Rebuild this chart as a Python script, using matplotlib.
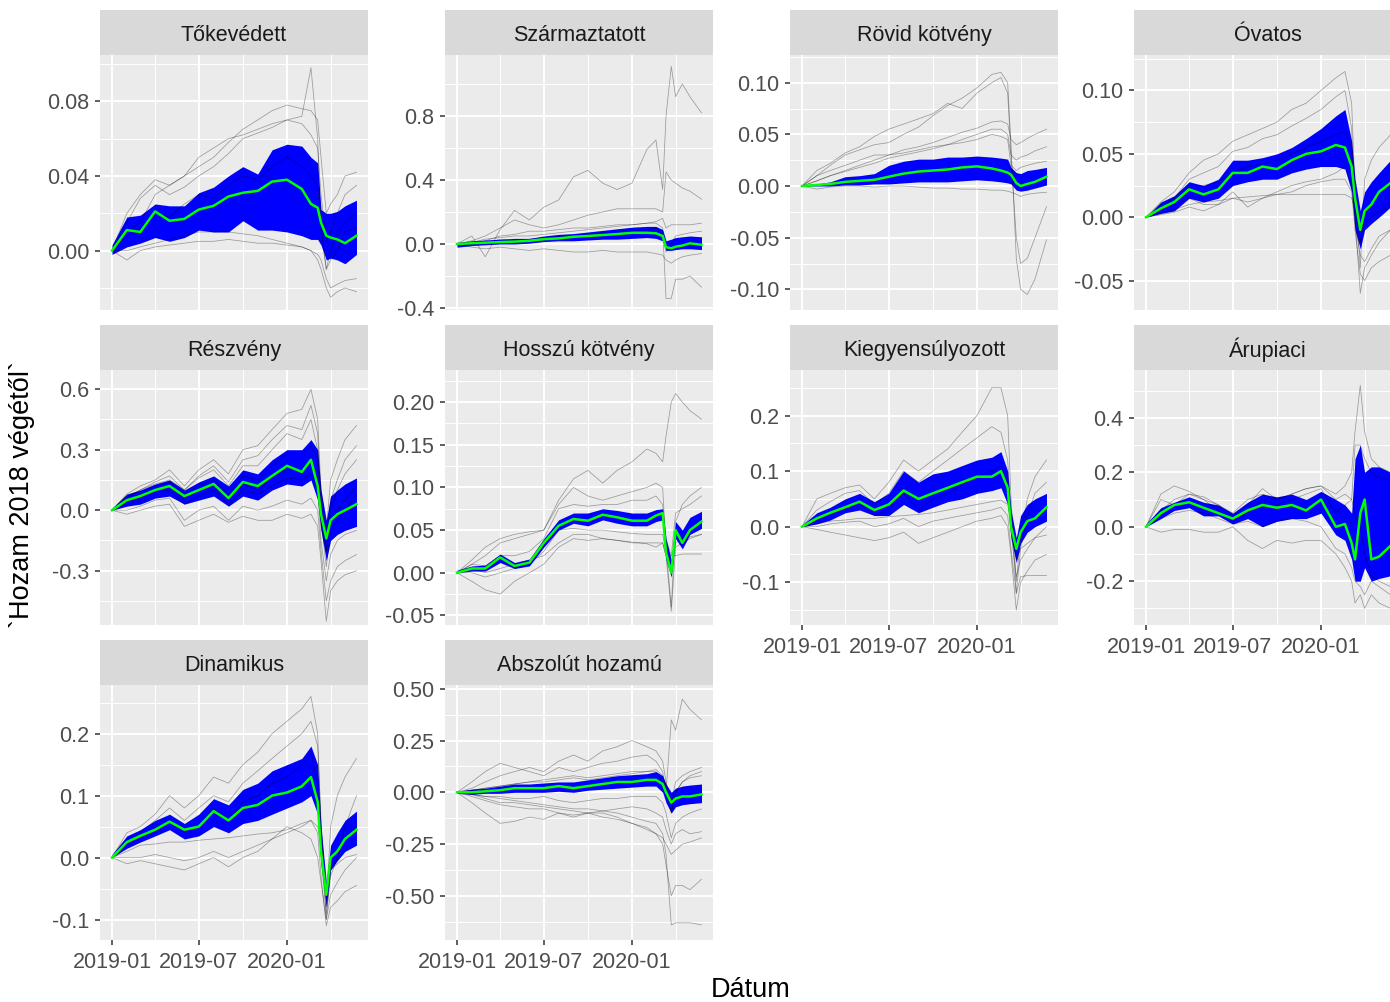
import numpy as np
import matplotlib
matplotlib.use("Agg")
import matplotlib.pyplot as plt
import matplotlib.dates as mdates
from matplotlib.ticker import MultipleLocator, FormatStrFormatter

plt.rcParams['font.family'] = ['Liberation Sans', 'DejaVu Sans']
plt.rcParams['axes.unicode_minus'] = False

# 01. data (knots only)
dates = np.array(["2019-01-01", "2019-02-01", "2019-03-01", "2019-04-01", "2019-05-01", "2019-06-01",
                  "2019-07-01", "2019-08-01", "2019-09-01", "2019-10-01", "2019-11-01", "2019-12-01",
                  "2020-01-01", "2020-02-01", "2020-02-20", "2020-03-05", "2020-03-12", "2020-03-23",
                  "2020-04-01", "2020-04-15", "2020-05-01", "2020-05-25"], dtype="datetime64[D]")

# Tőkevédett
tok_med = [0.000, 0.011, 0.010, 0.021, 0.016, 0.017, 0.022, 0.024, 0.029, 0.031, 0.032, 0.037, 0.038, 0.033, 0.025, 0.023, 0.015, 0.008, 0.007, 0.006, 0.004, 0.008]
tok_lo = [-0.002, 0.002, 0.004, 0.007, 0.005, 0.007, 0.011, 0.010, 0.010, 0.016, 0.011, 0.011, 0.010, 0.008, 0.006, 0.006, 0.003, -0.005, -0.004, -0.005, -0.007, -0.002]
tok_hi = [0.003, 0.018, 0.019, 0.025, 0.024, 0.024, 0.031, 0.034, 0.040, 0.045, 0.041, 0.054, 0.057, 0.056, 0.050, 0.047, 0.022, 0.020, 0.020, 0.021, 0.024, 0.027]
tok_funds = [
    [0, 0.020, 0.030, 0.038, 0.035, 0.040, 0.045, 0.050, 0.058, 0.065, 0.070, 0.075, 0.078, 0.076, 0.075, 0.070, 0.050, 0.020, 0.025, 0.030, 0.040, 0.042],
    [0, 0.010, 0.015, 0.030, 0.035, 0.040, 0.050, 0.055, 0.060, 0.062, 0.065, 0.068, 0.070, 0.072, 0.098, 0.060, 0.010, -0.010, -0.005, 0.000, 0.010, 0.012],
    [0, -0.005, 0.000, 0.002, 0.003, 0.004, 0.005, 0.005, 0.006, 0.005, 0.004, 0.004, 0.003, 0.002, 0.000, -0.002, -0.005, -0.015, -0.020, -0.018, -0.016, -0.015],
    [0, 0.015, 0.028, 0.035, 0.030, 0.034, 0.040, 0.045, 0.052, 0.060, 0.063, 0.066, 0.070, 0.068, 0.062, 0.055, 0.030, 0.005, 0.010, 0.020, 0.030, 0.035],
    [0, 0.000, 0.002, 0.004, 0.006, 0.008, 0.010, 0.010, 0.010, 0.009, 0.008, 0.006, 0.004, 0.002, 0.000, -0.005, -0.010, -0.020, -0.025, -0.022, -0.020, -0.022],
    [0, 0.008, 0.012, 0.020, 0.018, 0.025, 0.030, 0.028, 0.035, 0.040, 0.038, 0.045, 0.050, 0.045, 0.040, 0.035, 0.015, -0.010, 0.000, 0.010, 0.015, 0.020],
]

# Származtatott
szar_med = [0.000, 0.005, 0.008, 0.012, 0.015, 0.020, 0.030, 0.035, 0.045, 0.050, 0.056, 0.062, 0.070, 0.070, 0.067, 0.050, -0.020, -0.027, -0.017, -0.010, 0.004, -0.005]
szar_lo = [-0.020, -0.010, -0.005, 0.000, 0.000, 0.005, 0.015, 0.020, 0.020, 0.025, 0.030, 0.030, 0.035, 0.040, 0.035, 0.020, -0.040, -0.040, -0.035, -0.030, -0.030, -0.035]
szar_hi = [0.010, 0.020, 0.025, 0.030, 0.035, 0.035, 0.050, 0.060, 0.065, 0.075, 0.085, 0.095, 0.105, 0.110, 0.110, 0.090, 0.020, 0.030, 0.040, 0.045, 0.050, 0.045]
szar_funds = [
    [0, 0.05, -0.08, 0.09, 0.21, 0.15, 0.23, 0.275, 0.42, 0.46, 0.38, 0.34, 0.38, 0.59, 0.65, 0.34, 0.80, 1.11, 0.92, 1.00, 0.92, 0.82],
    [0, 0.02, 0.05, 0.10, 0.15, 0.12, 0.10, 0.12, 0.15, 0.18, 0.20, 0.22, 0.22, 0.22, 0.22, 0.20, 0.45, 0.40, 0.38, 0.35, 0.33, 0.28],
    [0, 0.00, 0.02, 0.05, 0.06, 0.08, 0.08, 0.09, 0.10, 0.10, 0.11, 0.12, 0.12, 0.13, 0.13, 0.10, -0.34, -0.34, -0.22, -0.22, -0.20, -0.27],
    [0, 0.01, 0.03, 0.04, 0.05, 0.05, 0.06, 0.07, 0.08, 0.09, 0.10, 0.11, 0.12, 0.13, 0.14, 0.16, 0.10, 0.12, 0.12, 0.12, 0.12, 0.13],
    [0, -0.02, -0.03, -0.02, -0.03, -0.04, -0.03, -0.04, -0.05, -0.05, -0.04, -0.05, -0.05, -0.05, -0.06, -0.07, -0.10, -0.12, -0.10, -0.08, -0.07, -0.06],
    [0, 0.01, 0.00, 0.03, 0.02, 0.03, 0.04, 0.05, 0.04, 0.06, 0.07, 0.06, 0.08, 0.09, 0.10, 0.05, -0.05, 0.00, 0.05, 0.06, 0.07, 0.08],
]

# Rövid kötvény
rov_med = [0.000, 0.001, 0.002, 0.004, 0.005, 0.006, 0.009, 0.012, 0.014, 0.015, 0.016, 0.018, 0.019, 0.017, 0.015, 0.013, 0.011, 0.003, 0.000, 0.002, 0.004, 0.009]
rov_lo = [0.000, 0.000, 0.000, 0.001, 0.001, 0.002, 0.002, 0.003, 0.004, 0.004, 0.004, 0.005, 0.006, 0.005, 0.004, 0.003, 0.002, -0.004, -0.005, -0.004, -0.002, 0.001]
rov_hi = [0.001, 0.002, 0.004, 0.009, 0.010, 0.012, 0.020, 0.024, 0.026, 0.026, 0.028, 0.028, 0.029, 0.028, 0.027, 0.026, 0.018, 0.013, 0.012, 0.015, 0.016, 0.018]
rov_funds = [
    [0, 0.010, 0.020, 0.030, 0.035, 0.040, 0.042, 0.050, 0.057, 0.068, 0.078, 0.085, 0.095, 0.108, 0.110, 0.100, 0.040, -0.070, -0.100, -0.105, -0.090, -0.052],
    [0, 0.015, 0.022, 0.032, 0.038, 0.048, 0.055, 0.060, 0.065, 0.070, 0.080, 0.075, 0.090, 0.100, 0.105, 0.090, 0.030, -0.050, -0.075, -0.070, -0.050, -0.020],
    [0, 0.005, 0.010, 0.015, 0.020, 0.025, 0.030, 0.035, 0.038, 0.042, 0.047, 0.052, 0.056, 0.062, 0.063, 0.060, 0.045, 0.040, 0.042, 0.046, 0.050, 0.055],
    [0, 0.005, 0.010, 0.014, 0.018, 0.022, 0.027, 0.030, 0.033, 0.036, 0.040, 0.045, 0.050, 0.055, 0.055, 0.050, 0.030, 0.025, 0.028, 0.030, 0.034, 0.038],
    [0, -0.003, -0.001, 0.000, 0.000, -0.001, 0.000, 0.000, -0.001, -0.002, -0.002, -0.003, -0.003, -0.004, -0.004, -0.005, -0.006, -0.008, -0.010, -0.008, -0.007, -0.006],
    [0, 0.010, 0.015, 0.020, 0.025, 0.030, 0.030, 0.032, 0.035, 0.038, 0.040, 0.042, 0.045, 0.050, 0.048, 0.045, 0.020, 0.015, 0.018, 0.020, 0.022, 0.024],
]

# Óvatos
ova_med = [0.000, 0.007, 0.012, 0.022, 0.018, 0.022, 0.035, 0.035, 0.040, 0.038, 0.045, 0.050, 0.052, 0.057, 0.055, 0.040, 0.015, -0.010, 0.005, 0.010, 0.020, 0.027]
ova_lo = [0.000, 0.003, 0.005, 0.015, 0.012, 0.015, 0.025, 0.028, 0.030, 0.030, 0.035, 0.038, 0.040, 0.040, 0.038, 0.020, -0.010, -0.025, -0.010, -0.005, 0.000, 0.008]
ova_hi = [0.000, 0.012, 0.017, 0.028, 0.025, 0.030, 0.045, 0.045, 0.047, 0.050, 0.055, 0.062, 0.070, 0.080, 0.085, 0.060, 0.030, 0.005, 0.020, 0.028, 0.035, 0.045]
ova_funds = [
    [0, 0.012, 0.020, 0.035, 0.045, 0.050, 0.060, 0.065, 0.070, 0.075, 0.085, 0.090, 0.100, 0.110, 0.115, 0.090, 0.020, -0.040, 0.030, 0.045, 0.055, 0.065],
    [0, 0.008, 0.015, 0.030, 0.035, 0.040, 0.052, 0.055, 0.062, 0.065, 0.072, 0.078, 0.085, 0.095, 0.100, 0.070, 0.000, -0.060, -0.040, -0.030, -0.020, -0.010],
    [0, 0.002, 0.004, 0.008, 0.005, 0.010, 0.015, 0.012, 0.015, 0.018, 0.020, 0.025, 0.028, 0.030, 0.030, 0.020, -0.010, -0.045, -0.050, -0.040, -0.035, -0.030],
    [0, 0.003, 0.006, 0.010, 0.012, 0.013, 0.015, 0.016, 0.017, 0.018, 0.018, 0.018, 0.018, 0.018, 0.018, 0.015, 0.005, -0.010, -0.005, 0.000, 0.005, 0.008],
    [0, 0.010, 0.015, 0.025, 0.025, 0.028, 0.035, 0.040, 0.042, 0.045, 0.050, 0.055, 0.060, 0.065, 0.068, 0.055, 0.020, -0.020, 0.000, 0.010, 0.020, 0.025],
    [0, 0.005, 0.010, 0.015, 0.010, 0.010, 0.020, 0.008, 0.015, 0.020, 0.025, 0.028, 0.030, 0.035, 0.040, 0.025, -0.005, -0.030, -0.035, -0.025, -0.015, -0.010],
]

# Részvény
resz_med = [0.00, 0.05, 0.07, 0.10, 0.12, 0.07, 0.10, 0.13, 0.06, 0.14, 0.12, 0.17, 0.22, 0.19, 0.25, 0.12, -0.02, -0.14, -0.05, -0.02, 0.00, 0.03]
resz_lo = [0.00, 0.02, 0.03, 0.06, 0.07, 0.03, 0.05, 0.07, 0.02, 0.07, 0.05, 0.10, 0.13, 0.12, 0.15, 0.05, -0.10, -0.25, -0.15, -0.12, -0.10, -0.08]
resz_hi = [0.01, 0.08, 0.10, 0.13, 0.15, 0.10, 0.14, 0.17, 0.12, 0.20, 0.18, 0.25, 0.30, 0.30, 0.35, 0.30, 0.10, -0.05, 0.07, 0.10, 0.13, 0.16]
resz_funds = [
    [0, 0.08, 0.12, 0.15, 0.20, 0.12, 0.20, 0.25, 0.18, 0.30, 0.32, 0.40, 0.48, 0.50, 0.60, 0.45, 0.10, -0.10, 0.15, 0.25, 0.35, 0.42],
    [0, 0.06, 0.10, 0.13, 0.15, 0.10, 0.16, 0.20, 0.12, 0.22, 0.22, 0.30, 0.38, 0.35, 0.45, 0.30, 0.00, -0.20, 0.00, 0.10, 0.18, 0.25],
    [0, 0.05, 0.08, 0.12, 0.14, 0.08, 0.12, 0.15, 0.08, 0.17, 0.15, 0.22, 0.28, 0.28, 0.32, 0.25, -0.05, -0.28, -0.10, -0.05, 0.00, 0.08],
    [0, 0.03, 0.05, 0.09, 0.10, 0.03, 0.07, 0.10, 0.03, 0.10, 0.08, 0.12, 0.16, 0.15, 0.18, 0.10, -0.15, -0.35, -0.22, -0.15, -0.12, -0.10],
    [0, 0.00, 0.02, 0.05, 0.06, -0.05, 0.00, 0.02, -0.05, 0.02, 0.00, 0.02, 0.05, 0.03, 0.06, 0.00, -0.20, -0.45, -0.35, -0.28, -0.25, -0.22],
    [0, -0.02, 0.00, 0.02, 0.03, -0.08, -0.05, -0.02, -0.06, -0.03, -0.05, -0.05, -0.02, -0.04, -0.02, -0.08, -0.25, -0.55, -0.40, -0.35, -0.32, -0.30],
    [0, 0.04, 0.06, 0.10, 0.12, 0.05, 0.10, 0.12, 0.05, 0.13, 0.10, 0.16, 0.20, 0.20, 0.24, 0.15, -0.08, -0.20, -0.05, 0.00, 0.05, 0.12],
    [0, 0.07, 0.10, 0.14, 0.17, 0.10, 0.17, 0.22, 0.14, 0.25, 0.27, 0.35, 0.42, 0.40, 0.52, 0.38, 0.05, -0.15, 0.05, 0.15, 0.25, 0.32],
]

# Hosszú kötvény
hosz_med = [0.000, 0.005, 0.005, 0.018, 0.008, 0.012, 0.035, 0.055, 0.063, 0.061, 0.068, 0.065, 0.061, 0.061, 0.067, 0.070, 0.024, 0.000, 0.050, 0.035, 0.050, 0.060]
hosz_lo = [0.000, 0.002, 0.002, 0.012, 0.005, 0.008, 0.030, 0.050, 0.058, 0.055, 0.062, 0.058, 0.055, 0.055, 0.060, 0.062, 0.015, -0.005, 0.040, 0.028, 0.045, 0.052]
hosz_hi = [0.003, 0.008, 0.009, 0.022, 0.012, 0.016, 0.040, 0.062, 0.070, 0.070, 0.075, 0.073, 0.070, 0.070, 0.074, 0.075, 0.040, 0.015, 0.060, 0.050, 0.065, 0.072]
hosz_funds = [
    [0, 0.010, 0.020, 0.035, 0.040, 0.045, 0.050, 0.085, 0.110, 0.120, 0.105, 0.120, 0.130, 0.145, 0.140, 0.130, 0.160, 0.200, 0.210, 0.200, 0.190, 0.180],
    [0, 0.015, 0.030, 0.040, 0.045, 0.048, 0.050, 0.080, 0.100, 0.090, 0.085, 0.090, 0.095, 0.100, 0.105, 0.100, 0.030, -0.040, 0.060, 0.080, 0.090, 0.100],
    [0, -0.010, -0.020, -0.025, -0.010, 0.000, 0.010, 0.030, 0.040, 0.038, 0.040, 0.038, 0.035, 0.035, 0.035, 0.035, 0.020, 0.020, 0.020, 0.022, 0.022, 0.022],
    [0, 0.005, 0.000, 0.005, 0.010, 0.015, 0.020, 0.035, 0.045, 0.045, 0.040, 0.038, 0.036, 0.034, 0.030, 0.035, 0.020, -0.045, 0.030, 0.035, 0.040, 0.045],
    [0, 0.010, 0.008, 0.020, 0.020, 0.025, 0.040, 0.075, 0.080, 0.078, 0.080, 0.080, 0.085, 0.085, 0.090, 0.080, 0.040, 0.020, 0.070, 0.075, 0.080, 0.090],
    [0, 0.000, -0.005, 0.000, 0.005, 0.010, 0.025, 0.050, 0.052, 0.050, 0.050, 0.048, 0.046, 0.045, 0.045, 0.045, 0.025, 0.010, 0.035, 0.040, 0.042, 0.045],
]

# Kiegyensúlyozott
kieg_med = [0.000, 0.015, 0.025, 0.035, 0.045, 0.030, 0.040, 0.065, 0.050, 0.060, 0.070, 0.080, 0.090, 0.090, 0.100, 0.070, 0.000, -0.040, -0.010, 0.010, 0.015, 0.035]
kieg_lo = [0.000, 0.005, 0.012, 0.025, 0.030, 0.020, 0.020, 0.040, 0.025, 0.035, 0.045, 0.050, 0.060, 0.065, 0.070, 0.040, -0.020, -0.065, -0.030, -0.010, 0.000, 0.010]
kieg_hi = [0.003, 0.025, 0.035, 0.050, 0.060, 0.045, 0.060, 0.100, 0.080, 0.095, 0.100, 0.110, 0.120, 0.125, 0.135, 0.100, 0.030, -0.020, 0.020, 0.040, 0.050, 0.060]
kieg_funds = [
    [0, 0.050, 0.060, 0.070, 0.075, 0.050, 0.080, 0.120, 0.100, 0.120, 0.140, 0.170, 0.200, 0.250, 0.250, 0.200, 0.050, -0.100, -0.020, 0.050, 0.090, 0.120],
    [0, 0.030, 0.045, 0.060, 0.065, 0.040, 0.060, 0.100, 0.080, 0.100, 0.120, 0.140, 0.160, 0.180, 0.170, 0.120, 0.020, -0.120, -0.040, 0.020, 0.060, 0.080],
    [0, -0.005, -0.010, -0.015, -0.020, -0.025, -0.020, -0.010, -0.030, -0.020, -0.010, 0.000, 0.010, 0.015, 0.020, 0.000, -0.050, -0.150, -0.100, -0.080, -0.060, -0.050],
    [0, 0.005, 0.010, 0.012, 0.015, 0.015, 0.018, 0.020, 0.022, 0.025, 0.030, 0.035, 0.040, 0.045, 0.048, 0.040, 0.010, -0.060, -0.040, -0.030, -0.020, -0.015],
    [0, 0.010, 0.020, 0.030, 0.040, 0.020, 0.030, 0.060, 0.030, 0.050, 0.060, 0.075, 0.090, 0.100, 0.110, 0.080, -0.010, -0.090, -0.060, -0.040, -0.020, 0.000],
    [0, 0.000, 0.005, 0.008, 0.010, 0.000, 0.005, 0.015, 0.000, 0.010, 0.015, 0.020, 0.025, 0.030, 0.035, 0.020, -0.040, -0.120, -0.090, -0.088, -0.088, -0.088],
]

# Árupiaci
aru_med = [0.00, 0.05, 0.08, 0.09, 0.07, 0.05, 0.03, 0.06, 0.08, 0.07, 0.08, 0.06, 0.10, 0.00, 0.01, -0.06, -0.12, 0.05, 0.10, -0.12, -0.11, -0.07]
aru_lo = [0.00, 0.03, 0.06, 0.07, 0.04, 0.04, 0.01, 0.03, 0.00, 0.02, 0.03, 0.03, 0.05, -0.03, -0.05, -0.12, -0.20, -0.20, -0.15, -0.20, -0.19, -0.18]
aru_hi = [0.01, 0.07, 0.09, 0.11, 0.09, 0.08, 0.05, 0.09, 0.12, 0.11, 0.12, 0.10, 0.13, 0.10, 0.08, 0.05, 0.25, 0.30, 0.20, 0.22, 0.22, 0.20]
aru_funds = [
    [0, 0.12, 0.15, 0.13, 0.10, 0.08, 0.05, 0.10, 0.12, 0.10, 0.12, 0.14, 0.15, 0.12, 0.15, 0.20, 0.35, 0.52, 0.35, 0.25, 0.22, 0.20],
    [0, 0.10, 0.08, 0.12, 0.10, 0.06, 0.02, 0.05, 0.10, 0.08, 0.10, 0.12, 0.14, 0.05, 0.08, 0.10, 0.30, 0.30, 0.25, 0.20, 0.18, 0.17],
    [0, -0.02, -0.01, -0.01, -0.02, -0.02, 0.00, -0.05, -0.08, -0.05, -0.06, -0.05, -0.05, -0.10, -0.15, -0.20, -0.28, -0.25, -0.30, -0.25, -0.28, -0.30],
    [0, 0.03, 0.05, 0.06, 0.05, 0.03, 0.01, 0.02, 0.00, 0.02, 0.03, 0.02, 0.00, -0.08, -0.10, -0.15, -0.20, -0.22, -0.25, -0.20, -0.22, -0.25],
    [0, 0.06, 0.10, 0.12, 0.11, 0.08, 0.04, 0.08, 0.14, 0.10, 0.12, 0.14, 0.15, 0.10, 0.12, 0.10, 0.05, 0.00, -0.10, -0.18, -0.20, -0.22],
]

# Dinamikus
din_med = [0.000, 0.025, 0.035, 0.045, 0.058, 0.045, 0.050, 0.075, 0.060, 0.080, 0.085, 0.100, 0.105, 0.115, 0.130, 0.090, 0.010, -0.060, 0.000, 0.010, 0.030, 0.045]
din_lo = [0.000, 0.015, 0.025, 0.035, 0.045, 0.030, 0.035, 0.050, 0.040, 0.055, 0.060, 0.070, 0.080, 0.090, 0.100, 0.070, -0.010, -0.080, -0.020, -0.005, 0.010, 0.020]
din_hi = [0.005, 0.035, 0.045, 0.060, 0.070, 0.055, 0.070, 0.095, 0.085, 0.110, 0.120, 0.140, 0.150, 0.160, 0.180, 0.150, 0.050, -0.040, 0.020, 0.040, 0.060, 0.075]
din_funds = [
    [0, 0.040, 0.050, 0.070, 0.100, 0.080, 0.100, 0.130, 0.120, 0.150, 0.170, 0.200, 0.220, 0.240, 0.260, 0.200, 0.050, -0.100, -0.020, 0.000, 0.050, 0.100],
    [0, 0.030, 0.040, 0.060, 0.080, 0.060, 0.080, 0.100, 0.090, 0.120, 0.140, 0.160, 0.180, 0.200, 0.220, 0.180, 0.060, -0.080, 0.050, 0.100, 0.130, 0.160],
    [0, -0.010, -0.005, -0.010, -0.015, -0.020, -0.010, 0.000, -0.015, 0.000, 0.010, 0.030, 0.050, 0.040, 0.030, 0.000, -0.040, -0.100, -0.060, -0.040, -0.020, 0.000],
    [0, 0.010, 0.020, 0.022, 0.025, 0.025, 0.028, 0.030, 0.032, 0.035, 0.038, 0.040, 0.045, 0.055, 0.060, 0.050, 0.020, -0.050, -0.020, -0.010, 0.000, 0.005],
    [0, 0.000, 0.000, 0.005, 0.000, -0.005, 0.000, 0.010, 0.000, 0.010, 0.020, 0.030, 0.040, 0.050, 0.060, 0.040, -0.030, -0.110, -0.080, -0.070, -0.055, -0.045],
    [0, 0.020, 0.030, 0.040, 0.060, 0.040, 0.050, 0.080, 0.060, 0.090, 0.100, 0.120, 0.130, 0.150, 0.170, 0.120, 0.000, -0.090, -0.030, 0.000, 0.030, 0.050],
]

# Abszolút hozamú
absz_med = [0.000, 0.000, 0.005, 0.010, 0.020, 0.020, 0.020, 0.030, 0.020, 0.030, 0.040, 0.050, 0.050, 0.060, 0.060, 0.040, 0.000, -0.050, -0.030, -0.020, -0.020, -0.010]
absz_lo = [-0.005, -0.010, -0.005, -0.005, 0.000, 0.000, 0.000, 0.005, 0.000, 0.010, 0.015, 0.020, 0.025, 0.030, 0.030, 0.000, -0.050, -0.100, -0.070, -0.060, -0.055, -0.050]
absz_hi = [0.005, 0.015, 0.020, 0.030, 0.040, 0.040, 0.045, 0.050, 0.050, 0.060, 0.070, 0.080, 0.085, 0.090, 0.100, 0.080, 0.040, 0.000, 0.020, 0.030, 0.035, 0.040]
absz_funds = [
    [0, 0.01, 0.02, 0.03, 0.04, 0.05, 0.06, 0.07, 0.08, 0.07, 0.08, 0.09, 0.10, 0.10, 0.10, 0.05, 0.00, 0.35, 0.30, 0.45, 0.40, 0.35],
    [0, 0.02, 0.05, 0.08, 0.10, 0.12, 0.10, 0.15, 0.18, 0.15, 0.20, 0.22, 0.25, 0.22, 0.20, 0.15, 0.05, -0.05, 0.05, 0.08, 0.10, 0.12],
    [0, 0.05, 0.10, 0.14, 0.12, 0.10, 0.08, 0.12, 0.10, 0.12, 0.14, 0.15, 0.17, 0.18, 0.15, 0.10, 0.00, -0.10, 0.00, 0.05, 0.08, 0.10],
    [0, -0.05, -0.10, -0.15, -0.14, -0.12, -0.13, -0.10, -0.12, -0.10, -0.10, -0.12, -0.15, -0.17, -0.20, -0.22, -0.25, -0.30, -0.28, -0.25, -0.24, -0.22],
    [0, -0.01, -0.03, -0.05, -0.05, -0.06, -0.07, -0.08, -0.09, -0.10, -0.12, -0.13, -0.15, -0.18, -0.20, -0.25, -0.35, -0.50, -0.45, -0.45, -0.47, -0.42],
    [0, -0.01, -0.02, -0.03, -0.04, -0.05, -0.06, -0.07, -0.08, -0.08, -0.09, -0.10, -0.12, -0.14, -0.15, -0.20, -0.30, -0.64, -0.63, -0.63, -0.63, -0.64],
    [0, -0.01, -0.02, -0.02, -0.03, -0.03, -0.02, -0.04, -0.05, -0.04, -0.03, -0.03, -0.02, -0.02, -0.02, -0.05, -0.10, -0.22, -0.15, -0.12, -0.10, -0.08],
    [0, 0.01, 0.02, 0.03, 0.04, 0.05, 0.05, 0.06, 0.07, 0.06, 0.07, 0.08, 0.09, 0.10, 0.11, 0.08, 0.02, -0.10, 0.00, 0.05, 0.07, 0.08],
    [0, -0.02, -0.04, -0.06, -0.07, -0.08, -0.08, -0.10, -0.11, -0.10, -0.09, -0.08, -0.07, -0.08, -0.10, -0.12, -0.18, -0.25, -0.20, -0.18, -0.20, -0.19],
]

titles = ["Tőkevédett", "Származtatott", "Rövid kötvény", "Óvatos", "Részvény",
          "Hosszú kötvény", "Kiegyensúlyozott", "Árupiaci", "Dinamikus", "Abszolút hozamú"]
medians = [tok_med, szar_med, rov_med, ova_med, resz_med, hosz_med, kieg_med, aru_med, din_med, absz_med]
lowers = [tok_lo, szar_lo, rov_lo, ova_lo, resz_lo, hosz_lo, kieg_lo, aru_lo, din_lo, absz_lo]
uppers = [tok_hi, szar_hi, rov_hi, ova_hi, resz_hi, hosz_hi, kieg_hi, aru_hi, din_hi, absz_hi]
funds = [tok_funds, szar_funds, rov_funds, ova_funds, resz_funds, hosz_funds, kieg_funds, aru_funds, din_funds, absz_funds]

# free y scales: limits, tick step, label format
ylims = [(-0.0318, 0.1048), (-0.4125, 1.181), (-0.120, 0.1268), (-0.0732, 0.128), (-0.569, 0.695),
         (-0.0612, 0.2376), (-0.177, 0.282), (-0.361, 0.576), (-0.133, 0.2785), (-0.713, 0.518)]
ysteps = [0.04, 0.4, 0.05, 0.05, 0.3, 0.05, 0.1, 0.2, 0.1, 0.25]
yfmts = ["%.2f", "%.1f", "%.2f", "%.2f", "%.1f", "%.2f", "%.1f", "%.1f", "%.1f", "%.2f"]

# 02. layout (pixels)
W, H = 1390, 1002
col_left = [100, 445, 790, 1134]
row_top = [10, 325, 640]
pw, strip_h, ph = 268, 45, 255
bottom_panels = {8, 9, 2 + 4, 3 + 4}

fig = plt.figure(figsize=(W / 100, H / 100), dpi=100)
xmin, xmax = np.datetime64("2018-12-07"), np.datetime64("2020-06-18")

for i, title in enumerate(titles):
    r, c = divmod(i, 4)
    left = col_left[c]
    stop = row_top[r]
    # strip
    sax = fig.add_axes([left / W, 1 - (stop + strip_h) / H, pw / W, strip_h / H])
    sax.set_facecolor("#D9D9D9")
    sax.set_xticks([])
    sax.set_yticks([])
    for s in sax.spines.values():
        s.set_visible(False)
    sax.text(0.5, 0.44, title, ha="center", va="center", fontsize=15.5, color="#1A1A1A",
             transform=sax.transAxes)

    ax = fig.add_axes([left / W, 1 - (stop + strip_h + ph) / H, pw / W, ph / H])
    ax.set_facecolor("#EBEBEB")
    for s in ax.spines.values():
        s.set_visible(False)

    for f in funds[i]:
        ax.plot(dates, f, color="black", alpha=0.35, lw=0.55)
    ax.fill_between(dates, lowers[i], uppers[i], color="#0000FF", lw=0)
    ax.plot(dates, medians[i], color="#00FF00", lw=1.8)

    ax.set_xlim(xmin, xmax)
    ax.set_ylim(*ylims[i])
    ax.xaxis.set_major_locator(mdates.MonthLocator(bymonth=[1, 7]))
    ax.xaxis.set_minor_locator(mdates.MonthLocator(bymonth=[4, 10]))
    ax.xaxis.set_major_formatter(mdates.DateFormatter("%Y-%m"))
    ax.yaxis.set_major_locator(MultipleLocator(ysteps[i]))
    ax.yaxis.set_minor_locator(MultipleLocator(ysteps[i] / 2))
    ax.yaxis.set_major_formatter(FormatStrFormatter(yfmts[i]))

    ax.grid(which="major", color="white", lw=1.4)
    ax.grid(which="minor", color="white", lw=0.7)
    ax.set_axisbelow(True)
    ax.tick_params(which="minor", length=0)
    ax.tick_params(which="major", length=3.6, width=1.1, color="#333333",
                   labelsize=15.5, labelcolor="#4D4D4D", pad=4)
    if i not in bottom_panels:
        ax.tick_params(axis="x", which="both", bottom=False, labelbottom=False)
    else:
        ax.tick_params(axis="x", pad=5)

fig.text(751 / W, 1 - 990 / H, "Dátum", ha="center", va="center", fontsize=19.5)
fig.text(22 / W, 1 - 495 / H, "`Hozam 2018 végétől`", ha="center", va="center",
         rotation=90, fontsize=19.5)

plt.savefig("out.png", dpi=100)
